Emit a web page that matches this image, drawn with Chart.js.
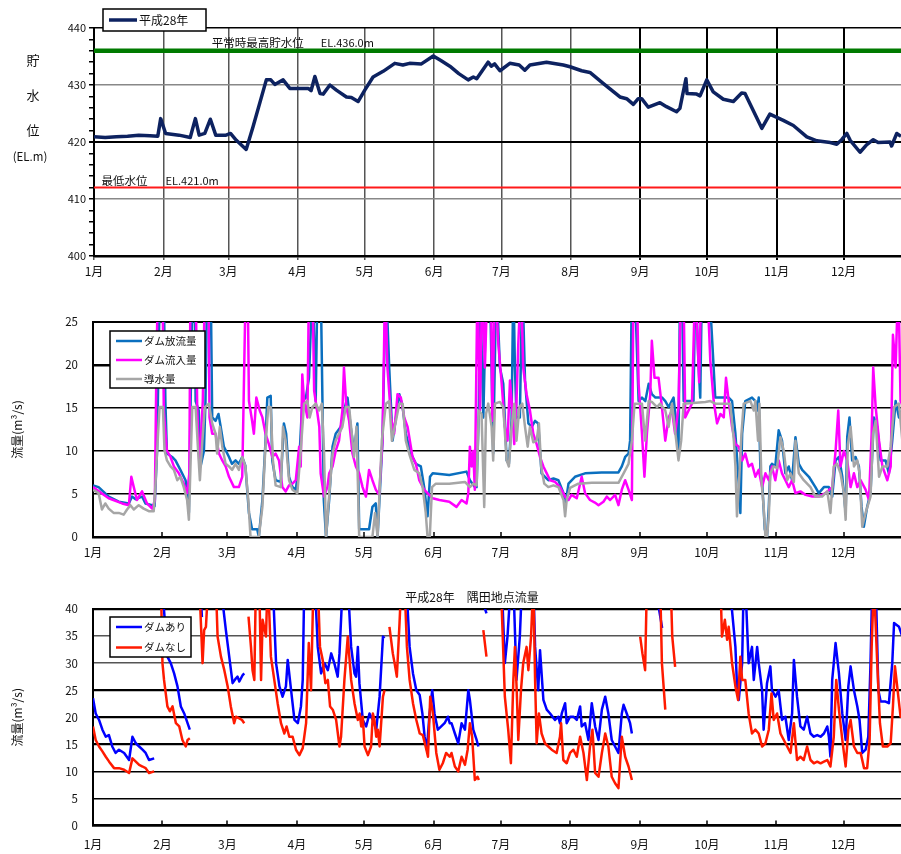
<!DOCTYPE html>
<html lang="ja">
<head>
<meta charset="utf-8">
<title>平成28年 貯水位・流量</title>
<script src="https://cdn.jsdelivr.net/npm/chart.js@4.4.1/dist/chart.umd.min.js"></script>
<style>
  html, body { margin: 0; padding: 0; background: #fff; }
  #wrap { position: relative; width: 901px; height: 854px; overflow: hidden; }
  canvas { position: absolute; left: 0; }
</style>
</head>
<body>
<div id="wrap">
  <canvas id="levelChart" width="901" height="285" style="top:0"></canvas>
  <canvas id="flowChart" width="901" height="265" style="top:300px"></canvas>
  <canvas id="sumidaChart" width="901" height="269" style="top:585px"></canvas>
</div>
<script>
// x axis = day of year (0 = 1月1日)
const monthDays = [0, 31, 60, 91, 121, 152, 182, 213, 244, 274, 305, 335];
const monthLabels = ['1月', '2月', '3月', '4月', '5月', '6月', '7月', '8月', '9月', '10月', '11月', '12月'];
const X_MAX = 360.6;

// 貯水位 (EL.m)
const levelDays = [0, 5, 10, 15, 20, 25, 28.5, 29.8, 32, 38, 43, 45.3, 47, 49.5, 52, 54.4, 59, 61, 63.6, 68,
  71, 77, 79, 80.8, 84.5, 87.5, 92, 95.7, 97, 98.7, 101, 102.4, 105.4, 108.3, 112.8, 115, 118, 121, 124.7, 129.2,
  134.4, 138, 141, 146.3, 151.6, 155, 159, 163, 167.2, 169.5, 171, 176.1, 177.5, 179, 181.4, 185.8, 190, 192.5, 194.8, 202.2,
  209.7, 212.7, 217.9, 221.6, 227.5, 235, 238, 241, 243.2, 244.7, 247.7, 252.9, 255.8, 260.3, 261.8, 264.5, 265, 269.3, 270.8, 273.8,
  276.7, 281.2, 285.7, 289.4, 290.9, 298.4, 302, 308, 312.5, 318.5, 323, 329, 331.9, 334.1, 336.4, 337.9, 342.3, 345.2, 348.2, 350.4,
  355.7, 356.4, 358.7, 360.6];
const levelValues = [420.9, 420.8, 420.9, 421.0, 421.2, 421.1, 421.0, 424.1, 421.5, 421.2, 420.8, 424.1, 421.2, 421.5, 424.0, 421.2, 421.2, 421.5, 420.3, 418.7,
  422.6, 430.9, 430.9, 430.1, 430.9, 429.4, 429.4, 429.4, 429.0, 431.5, 428.5, 428.4, 430.0, 429.1, 427.9, 427.8, 427.1, 429.1, 431.4, 432.4,
  433.8, 433.5, 433.8, 433.7, 435.1, 434.3, 433.3, 432.0, 430.9, 431.4, 431.1, 434.0, 433.3, 433.7, 432.5, 433.8, 433.5, 432.6, 433.5, 434.0,
  433.5, 433.2, 432.5, 432.2, 430.3, 427.9, 427.6, 426.6, 427.6, 427.6, 426.1, 426.9, 426.2, 425.3, 425.9, 431.1, 428.5, 428.4, 428.1, 430.9,
  428.8, 427.5, 427.1, 428.6, 428.5, 422.4, 424.9, 423.8, 422.9, 420.9, 420.2, 419.9, 419.6, 420.4, 421.5, 420.3, 418.2, 419.5, 420.4, 419.9,
  420.0, 419.3, 421.5, 421.0];
const thresholdDays = [0, 366];
const normalHighLevel = 436;
const lowestLevel = 412;

// ダム放流量 (m3/s)
const outflowDays = [0, 2.5, 7, 11.5, 16, 17.4, 19, 21.9, 23.4, 26.4, 27.5, 28.6, 29.4, 30, 31.5, 32.3, 33, 35.3, 36.8, 39,
  41.3, 42, 42.8, 44, 44.5, 45.3, 45.8, 47.2, 48, 49.5, 50.2, 51, 52.5, 53.2, 54.7, 56, 57, 58.4, 60.7, 62,
  63.6, 65.1, 66.6, 68, 69.6, 71, 73.3, 74, 75.6, 77, 77.8, 79.3, 80, 81.5, 83.8, 85.2, 86.2, 87.5, 89, 90.5,
  92, 93.4, 95, 96.4, 98, 99.4, 100.2, 101.6, 102.4, 103, 104, 105.4, 106.9, 108.3, 110.6, 112.8, 113.6, 115, 116.5, 118,
  118.8, 123.2, 124.7, 126.2, 127, 129.2, 130.7, 132.2, 133.7, 135.2, 136.7, 138.2, 139.6, 141.9, 144.1, 146.3, 147.8, 149.3, 150.4, 151.6,
  159, 166.7, 168.2, 170.4, 171.2, 172.2, 172.7, 174.2, 175.6, 177.1, 178.6, 180, 181.6, 183.1, 184.6, 185.6, 186.8, 187.6, 188.3, 189,
  190.5, 191.6, 192.8, 194.3, 195.8, 197.3, 198.7, 199.5, 200.2, 201.7, 203.2, 205.5, 207.7, 210, 210.7, 212.2, 215.1, 219.6, 227, 234.5,
  236, 237.5, 239, 239.7, 240.5, 241.7, 243.5, 245, 246.5, 248, 249.4, 251, 254, 255.4, 256.9, 259.1, 260.6, 261.3, 262, 262.8,
  263.6, 265, 268, 268.8, 270.3, 271, 271.8, 274.8, 276.2, 277.7, 283.7, 285.2, 286.7, 288.2, 288.9, 289.7, 291.1, 294.1, 295.6, 296.4,
  297.1, 297.9, 298.6, 299.8, 300.8, 301.6, 302.3, 303, 304.5, 306, 307.5, 309, 310.5, 312, 313.5, 315, 316.5, 319.5, 322.4, 323.9,
  326.2, 328.4, 329.9, 331.4, 332.9, 334.4, 335.9, 336.6, 337.6, 338.8, 340.3, 341.8, 343, 344, 345.5, 347, 348.5, 350, 351.5, 353.7,
  355.2, 356.7, 358.2, 359.7, 361.6];
const outflowValues = [6.0, 5.8, 4.7, 4.1, 3.9, 4.7, 4.4, 4.7, 3.9, 3.7, 3.6, 10.0, 23.0, 30, 30, 15.8, 9.7, 9.3, 8.9, 7.8,
  6.6, 5.3, 2.8, 22.8, 30, 30, 15.8, 14.7, 8.2, 10.0, 15.8, 30, 30, 13.9, 13.5, 14.3, 12.8, 10.5, 9.3, 8.5,
  8.9, 8.5, 9.3, 8.3, 2.8, 0.9, 0.9, 0, 4.3, 11.2, 16.2, 16.4, 8.9, 6.6, 6.4, 13.2, 12.0, 7.0, 5.8, 5.5,
  8.5, 15.8, 16.2, 18.5, 30, 15.8, 30, 30, 15.8, 4.3, 0, 4.3, 10.5, 12.0, 12.8, 15.5, 16.2, 12.8, 10.0, 13.2,
  0.9, 0.9, 3.5, 3.9, 0, 11.2, 30, 19.7, 11.2, 13.9, 16.6, 15.1, 12.0, 9.7, 8.5, 8.2, 5.8, 2.4, 7.0, 7.4,
  7.2, 7.6, 6.6, 5.8, 5.8, 14.7, 30, 13.9, 30, 30, 9.7, 30, 19.7, 17.8, 8.9, 8.5, 13.5, 30, 19.7, 13.9,
  13.9, 30, 18.2, 13.2, 12.8, 13.5, 13.2, 10.0, 7.4, 7.0, 6.6, 6.8, 6.6, 5.1, 3.5, 6.2, 7.0, 7.4, 7.5, 7.5,
  8.2, 9.3, 9.7, 11.2, 30, 30, 15.8, 16.2, 15.8, 17.8, 16.6, 16.2, 16.2, 15.8, 15.1, 16.2, 12.4, 10.0, 30, 30,
  15.8, 15.8, 15.8, 30, 19.7, 16.2, 30, 30, 23.5, 16.2, 16.2, 15.8, 12.0, 6.2, 2.8, 12.0, 15.8, 16.2, 15.8, 14.7,
  16.2, 7.4, 6.6, 0.9, 0, 3.5, 8.2, 8.5, 8.2, 12.4, 11.2, 7.4, 8.2, 6.6, 11.6, 8.5, 7.8, 7.0, 5.8, 5.1,
  5.8, 5.8, 4.7, 8.9, 9.3, 7.0, 2.8, 11.6, 13.9, 8.9, 9.3, 8.2, 3.5, 1.2, 3.5, 5.1, 13.9, 12.8, 8.9, 8.9,
  7.4, 11.2, 15.8, 13.9, 15.1];

// ダム流入量 (m3/s)
const inflowDays = [0, 7, 13, 16, 17.1, 18.2, 19.6, 21.9, 24.1, 26.4, 27.6, 28.3, 29, 31, 31.6, 33, 34.6, 36.1, 38.3, 40.5,
  42, 43, 43.5, 45.8, 46.5, 47.5, 49, 50, 51.5, 52, 53.2, 54.7, 56.2, 57.7, 59.2, 60.7, 62.9, 65.1, 66.6, 67.8,
  68.2, 69, 69.6, 71, 71.8, 72.9, 74.4, 75.6, 77, 78.5, 80, 81.5, 83, 84.5, 86, 87.5, 89, 90.5, 92, 92.7,
  93.4, 94.2, 95.7, 96.4, 97.9, 98.7, 100.2, 101, 101.6, 103.1, 104.6, 105.4, 106.9, 108.3, 109.8, 111.3, 112, 113.1, 114.3, 115.8,
  117.3, 118.8, 120.3, 121.8, 123.2, 124.7, 126.2, 127.7, 129.2, 130.4, 131.4, 133, 134.4, 135.9, 137.4, 138.9, 140.4, 142.6, 144.1, 145.6,
  147.8, 149.3, 151.6, 154.6, 159, 162.2, 164.5, 166.7, 167.5, 168.2, 169, 169.7, 170.4, 171.6, 172.7, 173.7, 174.9, 176.1, 177.6, 178.2,
  179.4, 180.9, 182.4, 183.8, 185, 186.1, 186.8, 188, 189, 189.8, 191, 192, 193.5, 195, 196.5, 198, 199.5, 201, 202.5, 204,
  206.2, 208.4, 210.7, 212.2, 213.6, 215.9, 218.1, 219.6, 221.8, 224, 225.6, 227.8, 229.3, 230.8, 233, 234.5, 236, 237.5, 239, 240.5,
  241.2, 242.7, 243.5, 245, 246.1, 247.2, 248.7, 249.4, 250.6, 252.4, 253.9, 255.4, 256.9, 258.4, 259.8, 261.3, 262.5, 263.5, 264.3, 267.3,
  268.8, 270.5, 271.5, 274, 275.5, 277, 278.5, 280, 281.5, 282.5, 283.7, 285.2, 286.7, 288.2, 289.7, 291.1, 292.6, 294.1, 295.6, 297.1,
  298.6, 300.1, 301.6, 303, 304.5, 306, 307.5, 309, 310.5, 312, 313.5, 315.7, 318, 321, 323.9, 326.9, 329.9, 331.4, 332.6, 333.6,
  335.1, 336.6, 338.1, 339.6, 341.1, 342.6, 344.8, 346.3, 347.5, 348.2, 349.3, 350.8, 352.3, 354.5, 356, 357, 358.2, 359.4, 360.4, 361.6];
const inflowValues = [5.8, 4.5, 3.9, 3.7, 7.0, 5.8, 4.3, 5.3, 3.9, 3.3, 4.3, 19.7, 30, 30, 14.7, 10.0, 9.3, 8.2, 7.4, 6.2,
  5.1, 7.4, 30, 30, 15.1, 8.2, 15.8, 30, 30, 13.9, 12.0, 12.0, 9.7, 8.9, 8.2, 7.0, 5.8, 5.8, 7.0, 24.3,
  30, 30, 15.8, 13.5, 12.0, 16.2, 14.7, 13.9, 12.0, 10.8, 9.3, 9.7, 8.9, 5.8, 5.3, 6.0, 6.2, 6.6, 10.5, 8.2,
  18.9, 15.8, 13.9, 30, 30, 17.0, 14.3, 12.8, 7.4, 4.7, 5.8, 7.4, 8.2, 10.0, 11.2, 14.7, 19.7, 15.1, 13.5, 9.7,
  8.2, 7.4, 5.8, 4.7, 7.8, 6.6, 5.5, 4.9, 11.2, 30, 19.7, 13.9, 12.0, 16.6, 16.2, 13.9, 12.8, 9.3, 8.5, 6.6,
  5.5, 5.1, 4.5, 4.3, 4.1, 3.5, 4.3, 3.9, 5.1, 10.5, 8.2, 10.0, 5.5, 30, 14.7, 30, 19.7, 30, 30, 13.5,
  30, 22.4, 17.8, 12.8, 11.2, 18.2, 15.8, 10.8, 15.8, 22.4, 30, 19.7, 16.6, 14.7, 12.0, 10.8, 9.3, 8.2, 7.4, 6.6,
  6.4, 5.8, 4.7, 4.3, 4.9, 4.5, 7.0, 5.1, 4.3, 4.0, 3.7, 4.1, 4.7, 4.3, 4.9, 3.7, 5.5, 6.6, 5.5, 4.3,
  30, 30, 17.8, 12.0, 7.0, 12.0, 16.6, 22.8, 18.5, 18.5, 15.1, 11.2, 13.9, 14.7, 12.0, 15.1, 30, 30, 13.9, 15.5,
  30, 18.0, 30, 30, 20.5, 15.8, 13.2, 14.3, 13.9, 18.5, 15.8, 12.8, 10.8, 10.5, 8.9, 9.7, 8.2, 8.5, 7.0, 7.8,
  5.8, 7.4, 6.6, 8.2, 6.6, 8.9, 7.4, 6.6, 5.8, 6.6, 5.1, 5.3, 4.9, 4.7, 4.7, 5.1, 5.8, 10.0, 14.7, 8.2,
  10.0, 8.9, 5.8, 7.4, 5.8, 6.6, 5.5, 4.3, 12.0, 19.7, 15.1, 11.2, 8.2, 6.6, 8.2, 23.5, 19.7, 30, 15.8, 15.1];

// 導水量 (m3/s)
const diversionDays = [0, 2.5, 4, 5.5, 7, 9.2, 11.5, 13.7, 15.2, 16.7, 18.2, 20.4, 22.6, 24.9, 27.1, 27.9, 28.6, 29.7, 31.2, 31.9,
  33, 34.6, 36.1, 37.6, 39, 40.5, 42, 42.8, 43.5, 44.3, 45.8, 46.8, 47.7, 48.7, 49.9, 51.7, 53.2, 54.7, 55.4, 56.6,
  57.7, 59.2, 60.7, 62.1, 63.6, 65.1, 66.6, 68, 69.3, 70.3, 74, 75.6, 77, 78.2, 79.3, 80.3, 81.5, 83.8, 84.8, 86,
  87.5, 89, 91.2, 92.7, 94.2, 95.7, 96.7, 97.9, 99.4, 100.9, 102.1, 103.1, 104, 105, 106.9, 108.3, 109.8, 111.3, 112.8, 114.3,
  115.5, 116.5, 117.6, 118.8, 124.7, 125.9, 127, 128.9, 130.7, 132.2, 133.4, 135.2, 136.7, 138.2, 139.6, 141.1, 143.4, 145.6, 147.1, 148.5,
  149.3, 150.3, 151.3, 153, 159, 166, 168.2, 169.7, 171.2, 172.2, 173.4, 174.6, 175.4, 176.4, 177.9, 178.6, 179.4, 181.6, 183.1, 184.6,
  185.6, 186.8, 188, 189, 190.3, 191.6, 192.8, 194, 195, 196.5, 198, 199, 200, 201.4, 203.2, 205.5, 207.7, 210, 210.7, 211.4,
  212.9, 216.6, 222.6, 234.5, 236.8, 239, 240.5, 241.7, 245, 246.4, 248, 249.4, 251.7, 253.1, 255.4, 256.9, 258.4, 260.6, 261.3, 262.5,
  263.6, 273.3, 275.5, 277.7, 284.4, 286, 286.7, 287.4, 288.2, 289.4, 290.4, 293.4, 294.9, 295.6, 296.8, 297.4, 298.3, 299.3, 300.1, 300.8,
  301.6, 302.3, 303.8, 305.3, 306.8, 308.3, 309.8, 311.3, 312.8, 313.5, 315, 317.2, 320.2, 322.4, 325.4, 327.7, 329.1, 330.6, 332.1, 333.6,
  335.1, 335.9, 336.9, 338.1, 339.6, 341.1, 342.1, 343.3, 344.8, 347, 348.1, 349.3, 350.8, 352.3, 354.5, 356, 357.5, 359.7, 361.2];
const diversionValues = [5.5, 5.1, 3.2, 3.9, 3.3, 2.8, 2.8, 2.6, 3.2, 3.7, 3.2, 3.7, 3.3, 3.0, 3.0, 6.2, 10.0, 15.1, 15.1, 10.1,
  8.9, 8.2, 7.8, 6.6, 7.0, 5.8, 4.3, 2.0, 8.2, 15.1, 15.1, 10.5, 6.6, 10.8, 15.1, 15.5, 13.2, 12.0, 9.7, 12.8,
  10.5, 8.5, 8.2, 7.8, 8.5, 7.8, 9.3, 8.2, 4.3, 0, 0, 3.5, 10.8, 15.1, 15.1, 8.9, 6.0, 5.8, 12.8, 11.2,
  6.6, 5.5, 5.1, 10.0, 15.5, 15.8, 13.9, 15.1, 15.5, 14.7, 15.5, 10.0, 0, 3.5, 9.7, 11.2, 12.0, 12.8, 15.1, 15.1,
  12.0, 9.3, 12.8, 0, 0, 2.8, 0, 11.2, 15.5, 15.8, 11.2, 13.5, 15.5, 15.5, 11.2, 9.7, 7.8, 7.4, 5.8, 2.8,
  0, 0, 5.8, 6.2, 6.2, 6.4, 5.8, 6.2, 6.0, 14.7, 14.3, 3.5, 14.3, 15.5, 12.8, 8.9, 15.5, 15.7, 15.1, 8.9,
  8.2, 12.8, 15.5, 11.2, 15.1, 15.5, 12.8, 10.5, 12.8, 11.0, 11.2, 13.2, 8.2, 6.2, 5.8, 6.0, 5.8, 4.3, 2.4, 4.3,
  5.7, 6.2, 6.3, 6.3, 7.4, 8.5, 11.2, 15.5, 15.5, 11.2, 15.8, 15.7, 15.1, 15.5, 14.7, 12.8, 15.5, 10.5, 8.9, 11.2,
  15.5, 15.7, 15.8, 15.5, 15.5, 11.2, 8.2, 2.4, 5.8, 12.0, 15.5, 15.8, 14.7, 15.8, 11.2, 15.5, 6.6, 3.5, 0, 0,
  2.4, 7.4, 8.2, 8.0, 11.6, 10.0, 6.6, 7.4, 6.4, 11.2, 7.4, 6.6, 5.8, 4.7, 4.7, 5.3, 2.8, 8.2, 8.5, 7.4,
  5.1, 2.0, 10.8, 12.8, 8.2, 8.9, 7.4, 1.2, 2.8, 4.7, 12.0, 13.5, 7.0, 8.2, 8.2, 10.5, 15.1, 15.5, 11.2];

// 隅田地点流量 ダムあり (m3/s), null = 欠測
const withDamDays = [0, 1.2, 2.7, 4.2, 5.7, 7.1, 8.6, 10.1, 11.6, 13.9, 16.1, 17.6, 19.1, 20.6, 22.1, 23.5, 25, 27.3, 29,
  30.3, 31.7, 33.2, 34.7, 36.2, 37.7, 39.2, 40.7, 42.2, 43.2, 45,
  47.8, 48.6, 50,
  56.8, 59.3, 60.8, 62.3, 63.8, 64.5, 65.3, 66.8, 67.5, 68.5,
  69.5, 80.2, 81.7, 83.2, 84.6, 86.1, 86.9, 88.4, 89.9, 91.4, 92.8, 93.6, 94.3, 99, 100.3, 101.8, 103.3, 104.8, 106.3, 107.7,
  109.2, 110, 111.5, 113.7, 115.2, 116.7, 117.4, 118.2, 118.9, 120.4, 121.9, 123.4, 124.9, 126.4, 127.9, 129.4, 130.1, 131,
  139.8, 141.3, 142.8, 144.3, 145.8, 147, 148, 149, 150.2, 151.4, 152.4, 153.9, 155.4, 156.9, 158.4, 159.2, 160, 161.5, 163, 164.5,
  166, 167.5, 168.2, 169.7, 171.2, 172, 173,
  174.2, 175.6, 177,
  182.4, 183.8, 185, 186.5, 187.6, 189, 190.5, 191.5, 196.5, 197.3, 198.7, 199.5, 201, 202.5, 204, 206.2, 207.7, 208.4, 209.2, 210.7,
  211.4, 212.9, 214.4, 215.9, 217.4, 218.1, 219.6, 221.1, 222.6, 224.1, 225.6, 227.1, 228.6, 230, 231.5, 233, 234.5, 236, 236.8, 238.2,
  239.7, 240.5, 242,
  251.5, 252.6, 254, 255,
  284, 286.7, 287.5, 288.2, 289.7, 290.4, 291.1, 292.6, 294.1, 294.9, 296.4, 297.1, 298.6, 299.3, 300.8, 302.3, 303, 304.6, 306, 307.5,
  309, 310.5, 312, 312.8, 314.2, 315.7, 317.2, 318.7, 320.2, 321.7, 323.2, 324.7, 326.2, 327.7, 328.4, 329.1, 329.9, 330.6, 331.4, 332.9,
  334.4, 335.9, 337.1, 338.1, 339.6, 341.1, 342.1, 343.3, 344.8, 346, 347, 347.8, 349.3, 350.5, 351.5, 353.7, 355.2, 356.7, 357.5, 359.7,
  361.2];
const withDamValues = [23.5, 20.7, 19.5, 17.7, 16.4, 16.7, 14.6, 13.4, 14.0, 13.4, 12.1, 16.4, 15.2, 14.6, 14.0, 13.4, 12.1, 12.4, null,
  45, 39.8, 31.2, 30.0, 28.1, 25.7, 22.0, 20.7, 18.9, 17.7, null,
  45, 38.5, null,
  45, 36.1, 31.2, 26.3, 27.2, 27.5, 26.6, 27.8, 28.1, null,
  45, 45, 30.0, 25.7, 23.8, 25.7, 30.6, 25.0, 19.5, 18.9, 22.0, 26.9, 45, 45, 33.0, 28.1, 30.0, 28.7, 31.8, 30.0,
  27.5, 31.8, 45, 45, 33.0, 28.1, 27.5, 33.0, 26.3, 19.5, 18.3, 20.7, 19.5, 17.7, 23.8, 34.9, 34.6, null,
  45, 33.0, 28.1, 25.0, 24.1, 20.7, 16.4, 14.0, 20.7, 25.0, 20.7, 17.7, 18.3, 18.9, 20.1, 18.9, 18.9, 17.0, 15.2, 18.9,
  17.7, 25.0, 23.2, 17.7, 15.8, 14.6, null,
  41.0, 39.2, null,
  45, 30.0, 35.0, 45, 45, 26.9, 35.0, 45, 45, 33.0, 25.0, 32.4, 23.2, 21.4, 20.7, 19.5, 20.1, 18.9, 20.7, 22.6,
  18.9, 20.1, 20.1, 19.5, 22.0, 18.3, 18.9, 15.8, 22.6, 18.3, 15.8, 21.4, 23.8, 20.7, 15.8, 14.6, 13.4, 20.7, 22.3, 20.7,
  18.9, 17.0, null,
  45, 40.0, 36.5, null,
  45, 33.0, 25.0, 23.2, 30.0, 45, 45, 30.0, 33.0, 26.9, 33.0, 30.0, 25.0, 17.7, 26.3, 29.4, 25.0, 23.8, 25.0, 19.5,
  20.1, 15.8, 20.7, 30.6, 23.8, 18.3, 17.7, 20.1, 17.0, 16.4, 16.7, 16.4, 17.0, 18.3, 16.4, 12.7, 26.9, 30.0, 33.7, 28.1,
  20.7, 15.8, 25.7, 29.4, 25.0, 22.0, 19.5, 13.4, 14.0, 16.4, 30.0, 45, 45, 25.0, 22.9, 22.9, 22.6, 30.0, 37.4, 36.7,
  34.9];

// 隅田地点流量 ダムなし (m3/s), null = 欠測
const noDamDays = [0, 1.2, 2.7, 4.2, 5.7, 7.2, 9.4, 11.6, 13.9, 16.1, 17.6, 19.1, 20.6, 22.1, 23.5, 25, 27.3, 29,
  30.3, 31, 31.7, 33.2, 34.3, 35.5, 37, 38.5, 39.9, 41.4, 42.2, 43.2, 45,
  47.4, 48.1, 48.9, 49.6, 50.4, 51.5, 54.8, 55.6, 57.1, 58.6, 60.1, 61.5, 63, 63.8, 65.3, 66.5, 67.5, 68.5,
  69.4, 70.5, 71.2, 72, 72.7, 74.2, 75, 75.7, 77.2, 77.9, 78.6, 79.4, 80.9, 82.4, 83.9, 85.4, 86.4, 87.6, 89.1, 90.6,
  92.1, 93.6, 95.1, 96.3, 97.3, 98.4, 100.3, 101.3, 102.5, 103.7, 104.8, 105.8, 107, 108.5, 110, 110.7, 112.2, 113.7, 115.2, 116.7,
  118.2, 119, 119.7, 120.4, 121.2, 122.7, 124.1, 124.9, 125.6, 126.4, 127.1, 127.9, 129.4, 130.1, 131,
  132.3, 133.8, 134.6, 135.6, 136.8, 137.6, 139, 140.1, 141.3, 142.8, 144.3, 145.8, 147.2, 148.8, 149.5, 150.5, 151.7, 153.2, 154.6, 156.1,
  157.6, 159.2, 160, 161.5, 163, 164.5, 166, 167.2, 168.2, 169.2, 170.4, 171.6, 172.2, 173,
  174.2, 175.6, 177,
  182, 183.8, 185.3, 186.5, 187.6, 188.3, 189.1, 189.8, 191, 192, 193.5, 194.3, 195.5, 196.5, 197.3, 198, 199, 200.2, 201.7, 203.2,
  204.7, 206.9, 208.4, 208.9, 209.9, 211.4, 212.9, 214.4, 215.9, 217.4, 218.9, 220.4, 221.8, 222.9, 224.1, 225.6, 227.1, 228.6, 230, 231.5,
  233, 234.5, 236, 237.5, 239, 240.5, 242,
  244.2, 245.2, 246.4, 247.2, 253.1, 253.9, 255.4, 257,
  257.8, 258.5, 259.8, 261,
  280, 280.7, 282, 283, 283.7, 285.2, 286.7, 287.9, 288.9, 289.7, 291.1, 292.6, 294.1, 295.6, 297.1, 298.6, 300.1, 301.6, 302.8, 303.8,
  305.3, 306.8, 308.3, 309.8, 311.3, 312.8, 314.2, 315.7, 317.2, 318.7, 320.2, 321.7, 323.2, 324.7, 326.2, 327.7, 329.1, 330.6, 331.7, 332.9,
  334.4, 335.9, 337.1, 338.1, 339.6, 341.1, 342.6, 344.1, 345.5, 346.6, 347.5, 348.5, 350, 351.2, 352.5, 354.5, 356, 357, 357.9, 358.9,
  360.4, 361.6];
const noDamValues = [18.3, 15.8, 14.6, 13.7, 12.7, 11.8, 10.6, 10.6, 10.3, 9.7, 12.4, 11.8, 11.2, 10.9, 10.6, 9.7, 10.0, null,
  45, 30.0, 26.9, 22.0, 21.1, 22.0, 18.9, 18.3, 15.8, 14.6, 15.8, 16.1, null,
  45, 38.0, 30.0, 36.1, 36.7, 45, 45, 34.9, 31.2, 28.7, 25.7, 22.0, 18.9, 20.1, 19.8, 19.5, 18.9, null,
  38.6, 33.0, 28.7, 26.9, 45, 45, 26.9, 38.0, 34.9, 45, 40.0, 31.2, 26.9, 22.6, 18.9, 17.0, 18.3, 16.4, 16.4, 14.0,
  13.0, 14.3, 18.9, 33.7, 25.0, 45, 45, 33.0, 30.6, 26.3, 26.9, 22.0, 21.4, 19.5, 14.6, 16.4, 26.9, 34.9, 26.9, 22.6,
  19.5, 20.7, 18.3, 20.1, 14.6, 13.0, 14.6, 20.7, 19.5, 16.4, 17.7, 14.6, 23.8, 25.0, null,
  36.7, 31.8, 30.0, 27.5, 37.4, 45, 45, 33.0, 26.9, 22.6, 19.5, 17.0, 16.7, 14.0, 12.7, 23.8, 20.7, 13.4, 10.3, 11.5,
  13.4, 12.7, 13.4, 10.9, 10.0, 12.7, 11.2, 14.0, 18.9, 16.4, 8.4, 9.0, 8.4, null,
  36.1, 31.2, null,
  45, 23.8, 17.7, 11.5, 26.9, 33.0, 25.0, 15.8, 25.0, 30.0, 33.0, 28.7, 34.9, 45, 26.9, 15.2, 20.7, 17.0, 15.2, 14.6,
  14.0, 13.4, 16.4, 18.9, 12.1, 11.5, 13.4, 14.0, 12.7, 16.4, 13.4, 8.4, 14.6, 17.7, 9.7, 9.0, 13.4, 17.0, 14.6, 9.0,
  7.8, 6.9, 16.4, 12.7, 10.9, 8.4, null,
  34.9, 31.8, 28.7, 45, 45, 30.0, 21.4, null,
  45, 35.0, 29.3, null,
  45, 34.9, 38.0, 34.3, 36.7, 30.0, 25.7, 23.2, 31.2, 26.9, 26.9, 20.7, 17.0, 17.7, 17.0, 14.6, 15.2, 17.7, 24.4, 19.5,
  20.7, 17.0, 15.8, 14.6, 13.4, 18.9, 12.1, 12.7, 12.1, 14.6, 12.1, 11.5, 11.8, 11.5, 11.8, 12.1, 10.9, 16.4, 26.9, 21.4,
  15.8, 10.9, 17.7, 19.5, 14.6, 13.4, 13.4, 10.6, 10.6, 15.8, 33.0, 45, 30.0, 18.9, 14.6, 14.6, 15.2, 22.0, 29.4, 25.7,
  20.1, 20.7];

const FONT = '"Noto Sans CJK JP", "Noto Sans", sans-serif';
const toPoints = (days, values) => days.map((d, i) => ({ x: d, y: values[i] }));

// notes, legend box and inward month ticks drawn over each chart
const overlay = {
  id: 'overlay',
  afterDraw(chart, args, opts) {
    const ctx = chart.ctx;
    const xs = chart.scales.x, ys = chart.scales.y;
    const area = chart.chartArea;
    ctx.save();
    if (opts.innerTicks) {
      ctx.strokeStyle = '#000';
      ctx.lineWidth = 1.5;
      xs.ticks.forEach(t => {
        const px = Math.round(xs.getPixelForValue(t.value));
        ctx.beginPath();
        ctx.moveTo(px, area.bottom);
        ctx.lineTo(px, area.bottom - 5);
        ctx.stroke();
      });
    }
    (opts.notes || []).forEach(n => {
      ctx.font = `${n.size || 12}px ${FONT}`;
      ctx.fillStyle = '#111';
      ctx.textAlign = n.align || 'left';
      ctx.textBaseline = n.baseline || 'middle';
      const x = n.day !== undefined ? xs.getPixelForValue(n.day) : n.px;
      const y = n.value !== undefined ? ys.getPixelForValue(n.value) + (n.dy || 0) : n.py;
      ctx.fillText(n.text, x, y);
    });
    const lg = opts.legend;
    if (lg) {
      ctx.fillStyle = '#fff';
      ctx.fillRect(lg.x, lg.y, lg.w, lg.h);
      ctx.strokeStyle = '#000';
      ctx.lineWidth = 1.5;
      ctx.strokeRect(lg.x, lg.y, lg.w, lg.h);
      ctx.font = `${lg.size}px ${FONT}`;
      ctx.textAlign = 'left';
      ctx.textBaseline = 'middle';
      lg.items.forEach((di, i) => {
        const ds = chart.data.datasets[di];
        const y = lg.y + lg.firstRow + i * lg.rowH;
        ctx.strokeStyle = ds.borderColor;
        ctx.lineWidth = ds.borderWidth;
        ctx.beginPath();
        ctx.moveTo(lg.x + 6, y);
        ctx.lineTo(lg.x + 6 + lg.lineLen, y);
        ctx.stroke();
        ctx.fillStyle = '#111';
        ctx.fillText(ds.label, lg.x + 8 + lg.lineLen, y);
      });
    }
    ctx.restore();
  }
};

function monthAxis(axisHeight, gridOpts, labelPad) {
  return {
    type: 'linear',
    min: 0,
    max: X_MAX,
    afterBuildTicks: (s) => { s.ticks = monthDays.map(v => ({ value: v })); },
    afterFit: (s) => { s.height = axisHeight; },
    ticks: {
      autoSkip: false, maxRotation: 0, padding: labelPad,
      callback: (v, i) => monthLabels[i],
      font: { family: FONT, size: 12 }, color: '#111'
    },
    grid: gridOpts,
    border: { color: '#000', width: 2.5 }
  };
}

function lineSet(label, days, values, color, width, order) {
  return {
    label, data: toPoints(days, values),
    borderColor: color, borderWidth: width, order,
    pointRadius: 0, tension: 0, fill: false, borderJoinStyle: 'round'
  };
}

const baseOptions = {
  responsive: false,
  animation: false,
  events: []
};

// 1) 貯水位
new Chart(document.getElementById('levelChart'), {
  type: 'line',
  data: {
    datasets: [
      lineSet('平成28年', levelDays, levelValues, '#0d2260', 3.5, 0),
      lineSet('平常時最高貯水位', thresholdDays, [normalHighLevel, normalHighLevel], '#007a00', 4.5, 1),
      lineSet('最低水位', thresholdDays, [lowestLevel, lowestLevel], '#ff1a1a', 2, 2)
    ]
  },
  options: {
    ...baseOptions,
    layout: { padding: { top: 28, right: 0, left: 0, bottom: 0 } },
    scales: {
      x: monthAxis(29, {
        color: (c) => c.tick && c.tick.value >= 244 ? '#000' : '#555',
        lineWidth: (c) => c.tick && c.tick.value >= 244 ? 2 : 1.5,
        tickLength: 4
      }, 4),
      y: {
        min: 400, max: 440,
        afterFit: (s) => { s.width = 94; },
        ticks: {
          stepSize: 2, autoSkip: false, padding: 3,
          callback: (v) => (v % 10 === 0 ? v : ''),
          font: { family: FONT, size: 11 }, color: '#111'
        },
        grid: {
          color: (c) => {
            const v = c.tick ? c.tick.value : 0;
            if (v % 10 !== 0) return 'rgba(0,0,0,0)';
            return (v === 420 || v === 440) ? '#000' : '#888';
          },
          lineWidth: (c) => (c.tick && c.tick.value === 420 ? 2 : 1.5),
          tickColor: '#000',
          tickLength: 5
        },
        border: { color: '#000', width: 2 }
      }
    },
    plugins: {
      legend: { display: false },
      tooltip: { enabled: false },
      overlay: {
        notes: [
          { text: '平常時最高貯水位', day: 52.6, value: normalHighLevel, dy: -8, size: 11.5 },
          { text: 'EL.436.0m', day: 101.3, value: normalHighLevel, dy: -8, size: 11 },
          { text: '最低水位', day: 3.4, value: lowestLevel, dy: -7, size: 11.5 },
          { text: 'EL.421.0m', day: 32, value: lowestLevel, dy: -7, size: 11 },
          { text: '貯', px: 33, py: 60, size: 13, align: 'center' },
          { text: '水', px: 33, py: 95, size: 13, align: 'center' },
          { text: '位', px: 33, py: 130, size: 13, align: 'center' },
          { text: '(EL.m)', px: 30, py: 157, size: 11.5, align: 'center' }
        ],
        legend: { x: 103, y: 9, w: 103, h: 22, firstRow: 11, rowH: 0, lineLen: 28, size: 12, items: [0] }
      }
    }
  },
  plugins: [overlay]
});

// 2) ダム放流量・流入量・導水量  (canvas top = 300)
new Chart(document.getElementById('flowChart'), {
  type: 'line',
  data: {
    datasets: [
      lineSet('ダム放流量', outflowDays, outflowValues, '#0a6fbf', 2.5, 2),
      lineSet('ダム流入量', inflowDays, inflowValues, '#ff00ff', 2.5, 1),
      lineSet('導水量', diversionDays, diversionValues, '#a6a6a6', 2.5, 0)
    ]
  },
  options: {
    ...baseOptions,
    layout: { padding: { top: 21, right: 0, left: 0, bottom: 0 } },
    scales: {
      x: monthAxis(28, { display: false, drawTicks: false }, 8),
      y: {
        min: 0, max: 25,
        afterFit: (s) => { s.width = 93; },
        title: { display: true, text: '流量(m³/s)', font: { family: FONT, size: 12 }, color: '#111', padding: { top: 10, bottom: 0 } },
        ticks: { stepSize: 5, padding: 15, font: { family: FONT, size: 11.5 }, color: '#111' },
        grid: {
          color: '#000',
          lineWidth: (c) => (c.tick && c.tick.value === 20 ? 2.5 : (c.tick && c.tick.value === 25 ? 2 : 1.4)),
          drawTicks: false
        },
        border: { color: '#000', width: 2 }
      }
    },
    plugins: {
      legend: { display: false },
      tooltip: { enabled: false },
      overlay: {
        innerTicks: true,
        legend: { x: 110, y: 31, w: 95, h: 57, firstRow: 10, rowH: 19, lineLen: 26, size: 10.5, items: [0, 1, 2] }
      }
    }
  },
  plugins: [overlay]
});

// 3) 隅田地点流量  (canvas top = 585)
new Chart(document.getElementById('sumidaChart'), {
  type: 'line',
  data: {
    datasets: [
      lineSet('ダムあり', withDamDays, withDamValues, '#0000ff', 2.5, 1),
      lineSet('ダムなし', noDamDays, noDamValues, '#ff1a00', 2.5, 0)
    ]
  },
  options: {
    ...baseOptions,
    layout: { padding: { top: 24, right: 0, left: 0, bottom: 0 } },
    scales: {
      x: monthAxis(28.5, { display: false, drawTicks: false }, 12),
      y: {
        min: 0, max: 40,
        afterFit: (s) => { s.width = 93; },
        title: { display: true, text: '流量(m³/s)', font: { family: FONT, size: 12 }, color: '#111', padding: { top: 10, bottom: 0 } },
        ticks: { stepSize: 5, padding: 15, font: { family: FONT, size: 11.5 }, color: '#111' },
        grid: {
          color: (c) => (c.tick && (c.tick.value === 30 || c.tick.value === 35) ? '#555' : '#000'),
          lineWidth: (c) => {
            const v = c.tick ? c.tick.value : 0;
            return (v === 15 || v === 20 || v === 25 || v === 40) ? 2.2 : 1.4;
          },
          drawTicks: false
        },
        border: { color: '#000', width: 2 }
      }
    },
    plugins: {
      legend: { display: false },
      tooltip: { enabled: false },
      overlay: {
        innerTicks: true,
        notes: [
          { text: '平成28年　隅田地点流量', px: 472, py: 12, size: 12, align: 'center' }
        ],
        legend: { x: 110, y: 32, w: 81, h: 40, firstRow: 10, rowH: 20.5, lineLen: 26, size: 10.5, items: [0, 1] }
      }
    }
  },
  plugins: [overlay]
});
</script>
</body>
</html>
